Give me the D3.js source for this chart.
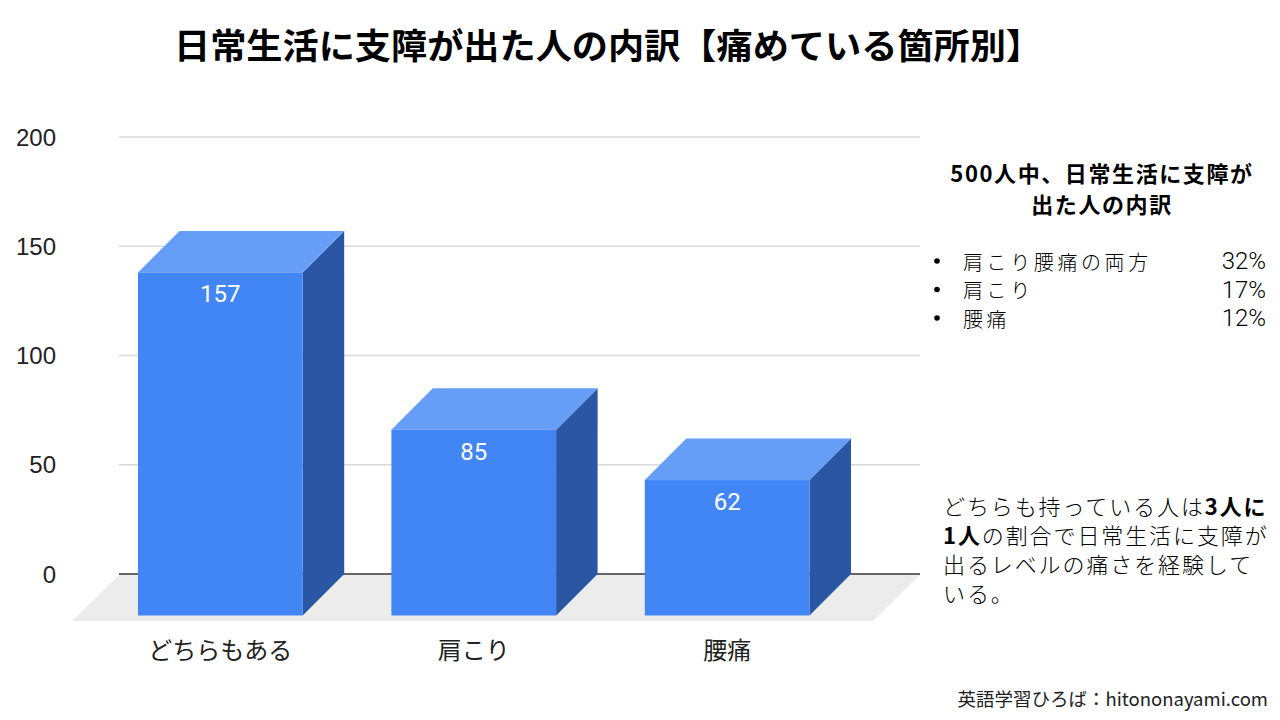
<!DOCTYPE html>
<html>
<head>
<meta charset="utf-8">
<script src="https://cdn.jsdelivr.net/npm/d3@7"></script>
<style>
  body { margin: 0; background: #fff; }
  svg { display: block; font-family: "Noto Sans CJK JP", "Noto Sans", sans-serif; }
</style>
</head>
<body>
<div id="chart"></div>
<script>
// data
const categories = ["どちらもある", "肩こり", "腰痛"];
const values = [157, 85, 62];
const yTicks = [0, 50, 100, 150, 200];

const title = "日常生活に支障が出た人の内訳【痛めている箇所別】";
const panelHeading = ["500人中、日常生活に支障が", "出た人の内訳"];
const breakdownLabels = ["肩こり腰痛の両方", "肩こり", "腰痛"];
const breakdownShares = ["32%", "17%", "12%"];
const noteLines = [
  [{ t: "どちらも持っている人は" }, { t: "3人に", b: true }],
  [{ t: "1人", b: true }, { t: "の割合で日常生活に支障が" }],
  [{ t: "出るレベルの痛さを経験して" }],
  [{ t: "いる。" }],
];
const credit = "英語学習ひろば：hitononayami.com";

//size
const width = 1280;
const height = 720;
const depth = 41.5; // 3d offset of bars
const floorDepth = 47;

const svg = d3
  .select("#chart")
  .append("svg")
  .attr("width", width)
  .attr("height", height);

//scale
const yScale = d3.scaleLinear().domain([0, 200]).range([574, 137]);
const xScale = d3
  .scaleBand()
  .domain(categories)
  .range([138, 809.5])
  .paddingInner(0.35)
  .paddingOuter(0);
const bw = xScale.bandwidth();

//title
svg
  .append("text")
  .attr("x", 174)
  .attr("y", 43)
  .attr("dominant-baseline", "central")
  .attr("font-size", 35)
  .attr("font-weight", 700)
  .attr("textLength", 868)
  .attr("lengthAdjust", "spacingAndGlyphs")
  .attr("fill", "#000")
  .text(title);

//grid
const gridX0 = 119;
const gridX1 = 920;
svg
  .selectAll("line.grid")
  .data(yTicks.filter((d) => d > 0))
  .join("line")
  .attr("class", "grid")
  .attr("x1", gridX0)
  .attr("x2", gridX1)
  .attr("y1", (d) => yScale(d))
  .attr("y2", (d) => yScale(d))
  .attr("stroke", "#d9d9d9")
  .attr("stroke-width", 1.5);

//floor
const y0 = yScale(0);
svg
  .append("polygon")
  .attr(
    "points",
    [
      [gridX0, y0 + 1],
      [gridX1, y0 + 1],
      [gridX1 - floorDepth, y0 + floorDepth],
      [gridX0 - floorDepth, y0 + floorDepth],
    ].join(" ")
  )
  .attr("fill", "#ececec");

svg
  .append("line")
  .attr("x1", gridX0)
  .attr("x2", gridX1)
  .attr("y1", y0)
  .attr("y2", y0)
  .attr("stroke", "#333")
  .attr("stroke-width", 1.5);

//y tick labels
svg
  .selectAll("text.tick")
  .data(yTicks)
  .join("text")
  .attr("class", "tick")
  .attr("x", 56)
  .attr("y", (d) => yScale(d))
  .attr("text-anchor", "end")
  .attr("dominant-baseline", "central")
  .style("font-family", "Arial, 'Liberation Sans', sans-serif")
  .attr("font-size", 24)
  .attr("fill", "#222")
  .text((d) => d);

//bars
const bars = svg
  .selectAll("g.bar")
  .data(categories.map((c, i) => ({ c, v: values[i] })))
  .join("g")
  .attr("class", "bar");

bars
  .append("polygon")
  .attr("fill", "#2b56a4")
  .attr("points", (d) => {
    const x = xScale(d.c) + bw;
    const yt = yScale(d.v);
    return [
      [x, yt + depth],
      [x + depth, yt],
      [x + depth, y0],
      [x, y0 + depth],
    ].join(" ");
  });

bars
  .append("polygon")
  .attr("fill", "#669df6")
  .attr("points", (d) => {
    const x = xScale(d.c);
    const yt = yScale(d.v);
    return [
      [x, yt + depth],
      [x + depth, yt],
      [x + bw + depth, yt],
      [x + bw, yt + depth],
    ].join(" ");
  });

bars
  .append("rect")
  .attr("fill", "#4285f4")
  .attr("x", (d) => xScale(d.c))
  .attr("y", (d) => yScale(d.v) + depth)
  .attr("width", bw)
  .attr("height", (d) => y0 - yScale(d.v));

bars
  .append("text")
  .attr("x", (d) => xScale(d.c) + bw / 2)
  .attr("y", (d) => yScale(d.v) + depth + 22)
  .attr("text-anchor", "middle")
  .attr("dominant-baseline", "central")
  .style("font-family", "Roboto, Arial, sans-serif")
  .attr("font-size", 24)
  .attr("fill", "#fff")
  .text((d) => d.v);

//category labels
svg
  .selectAll("text.cat")
  .data(categories)
  .join("text")
  .attr("class", "cat")
  .attr("x", (d) => xScale(d) + bw / 2)
  .attr("y", 648)
  .attr("text-anchor", "middle")
  .attr("dominant-baseline", "central")
  .attr("font-size", 24)
  .attr("fill", "#222")
  .text((d) => d);

//right panel
svg
  .selectAll("text.heading")
  .data(panelHeading)
  .join("text")
  .attr("class", "heading")
  .attr("x", 1102)
  .attr("y", (d, i) => 172 + i * 31)
  .attr("text-anchor", "middle")
  .attr("dominant-baseline", "central")
  .attr("font-size", 22)
  .attr("letter-spacing", 1.6)
  .attr("font-weight", 700)
  .attr("fill", "#000")
  .text((d) => d);

const rows = svg
  .selectAll("g.row")
  .data(breakdownLabels.map((l, i) => ({ l, s: breakdownShares[i] })))
  .join("g")
  .attr("class", "row")
  .attr("transform", (d, i) => `translate(0,${261 + i * 28.5})`);

rows
  .append("circle")
  .attr("cx", 937)
  .attr("cy", 0)
  .attr("r", 2.8)
  .attr("fill", "#000");

rows
  .append("text")
  .attr("x", 963)
  .attr("dominant-baseline", "central")
  .attr("font-size", 20)
  .attr("letter-spacing", 3.6)
  .attr("font-weight", 300)
  .text((d) => d.l);

rows
  .append("text")
  .attr("x", 1266)
  .attr("text-anchor", "end")
  .attr("dominant-baseline", "central")
  .style("font-family", "Roboto, Arial, sans-serif")
  .attr("font-size", 24)
  .attr("font-weight", 300)
  .text((d) => d.s);

//note
const note = svg
  .selectAll("text.note")
  .data(noteLines)
  .join("text")
  .attr("class", "note")
  .attr("x", 943)
  .attr("y", (d, i) => 505 + i * 29)
  .attr("dominant-baseline", "central")
  .attr("font-size", 22)
  .attr("letter-spacing", 1.9)
  .attr("fill", "#000");

note
  .selectAll("tspan")
  .data((d) => d)
  .join("tspan")
  .attr("font-weight", (d) => (d.b ? 700 : 300))
  .text((d) => d.t);

//credit
svg
  .append("text")
  .attr("x", 1268)
  .attr("y", 698)
  .attr("text-anchor", "end")
  .attr("dominant-baseline", "central")
  .attr("font-size", 18.5)
  .attr("fill", "#222")
  .text(credit);
</script>
</body>
</html>
